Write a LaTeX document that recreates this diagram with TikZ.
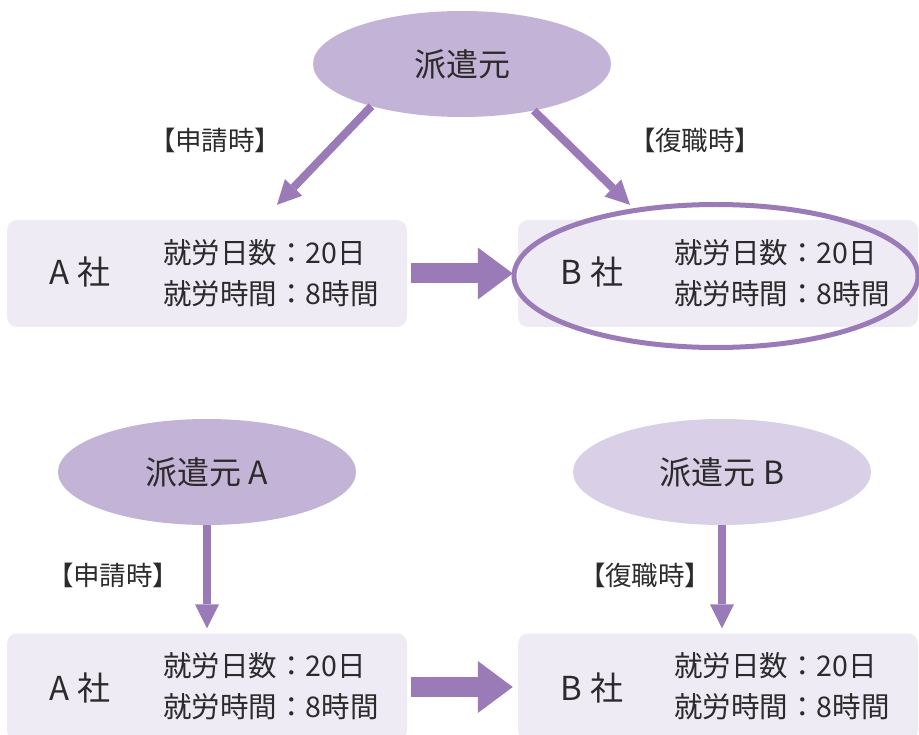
\documentclass[tikz,border=0pt]{standalone}
\usepackage{fontspec}
\setmainfont{Noto Sans CJK JP}
\newfontfamily\labelfont[RawFeature=+palt]{Noto Sans CJK JP}
\usetikzlibrary{positioning,calc,shapes.geometric,arrows.meta}
\definecolor{haken}{HTML}{C3B3D6}
\definecolor{hakenlt}{HTML}{D9CFE6}
\definecolor{corpfill}{HTML}{EEEBF5}
\definecolor{arrowc}{HTML}{9A7BB8}
\definecolor{txt}{HTML}{2B2B2B}

\begin{document}
\begin{tikzpicture}
   [x=1pt,y=-1pt,
	src/.style={ellipse,fill=haken,minimum width=298pt,minimum height=106pt,
	 inner sep=0pt,text=txt,font=\fontsize{32}{38}\selectfont},
	corp/.style={rectangle,rounded corners=10pt,fill=corpfill,
	 minimum width=400pt,minimum height=107pt},
	cname/.style={text=txt,font=\fontsize{33}{38}\selectfont},
	detail/.style={anchor=west,align=left,inner sep=0pt,text=txt,
	 font=\fontsize{28.5}{41}\selectfont},
	when/.style={text=txt,font=\labelfont\fontsize{26.5}{30}\selectfont},
	ring/.style={ellipse,draw=arrowc,line width=5pt,minimum width=404pt,
	 minimum height=143pt},
	flow/.style={draw=arrowc,line width=8pt,
	 -{Triangle[length=24pt,width=24pt,line width=0pt]}},
	bigarrow/.style={draw=arrowc,line width=20pt,
	 -{Triangle[length=35pt,width=52pt,line width=0pt]},
	 shorten <=4pt,shorten >=5pt}]
\useasboundingbox (0,0) rectangle (919,735);
% one source
\node [src] (top) at (462,64) {派遣元};
\node [corp] (a1) at (207,273.5) {};
\node [cname] (a1name) at (80,272) {A 社};
\node [detail] (a1info) at (163,273) {就労日数：20日\\就労時間：8時間};
\node [corp] (b1) at (718,273.5) {};
\node [cname] (b1name) at (592,272) {B 社};
\node [detail] (b1info) at (674,273) {就労日数：20日\\就労時間：8時間};
\node [ring] (hilite) at (716,276) {};
\node [when] (ask1) at (215,140) {【申請時】};
\node [when] (back1) at (695,140) {【復職時】};
\draw [flow] (top.205) -- ($(a1.north)+(70,-15)$);
\draw [flow] (top.327) -- ($(b1.north)+(-88,-15)$);
\draw [bigarrow] (a1) -- (b1);
% two sources
\node [src] (srcA) at (207,472) {派遣元 A};
\node [src,fill=hakenlt] (srcB) at (722,472) {派遣元 B};
\node [corp] (a2) at (207,687) {};
\node [cname] (a2name) at (80,688) {A 社};
\node [detail] (a2info) at (163,686) {就労日数：20日\\就労時間：8時間};
\node [corp] (b2) at (718,687) {};
\node [cname] (b2name) at (592,688) {B 社};
\node [detail] (b2info) at (674,686) {就労日数：20日\\就労時間：8時間};
\node [when] (ask2) at (113,575) {【申請時】};
\node [when] (back2) at (645,575) {【復職時】};
\draw [flow,shorten >=5pt] (srcA) -- (a2);
\draw [flow,shorten >=5pt] (srcB.south) -- (srcB.south |- b2.north);
\draw [bigarrow] (a2) -- (b2);
\end{tikzpicture}
\end{document}
